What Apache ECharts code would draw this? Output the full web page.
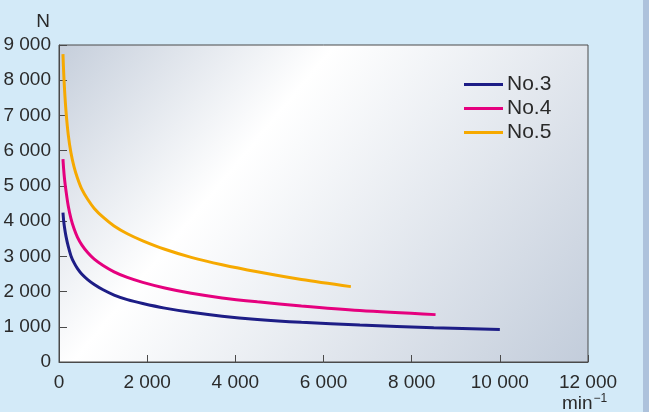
<!DOCTYPE html>
<html>
<head>
<meta charset="utf-8">
<style>
html,body{margin:0;padding:0;background:#d3eaf8;}
#chart{width:649px;height:412px;}
</style>
<script src="https://cdn.jsdelivr.net/npm/echarts@6/dist/echarts.min.js"></script>
</head>
<body>
<div id="chart"></div>
<script>
// Data (speed min^-1, load N)
const seriesNames = ['No.3', 'No.4', 'No.5'];
const no3 = [[90,4240],[105,4020],[125,3820],[160,3560],[210,3280],[270,3020],[340,2820],[420,2650],[520,2490],[650,2340],[800,2200],[1000,2050],[1250,1900],[1550,1770],[1900,1660],[2400,1530],[3000,1410],[3700,1300],[4500,1210],[5500,1130],[6825,1050],[8500,975],[10000,920]];
const no4 = [[90,5760],[105,5480],[125,5200],[160,4850],[210,4430],[270,4080],[340,3790],[420,3540],[520,3320],[650,3110],[800,2920],[1000,2740],[1250,2560],[1550,2400],[1900,2260],[2400,2100],[3000,1950],[3700,1820],[4500,1710],[5500,1590],[6825,1460],[8542,1345]];
const no5 = [[90,8740],[105,8250],[125,7750],[160,7100],[210,6450],[270,5950],[340,5550],[420,5220],[520,4900],[650,4620],[800,4360],[1000,4110],[1250,3860],[1550,3640],[1900,3440],[2400,3200],[3000,2970],[3700,2760],[4500,2560],[5500,2340],[6621,2140]];
const xTickLabels = ['0','2 000','4 000','6 000','8 000','10 000','12 000'];
const yTickLabels = ['0','1 000','2 000','3 000','4 000','5 000','6 000','7 000','8 000','9 000'];
const colors = ['#1d1d86', '#e5007e', '#f6a900'];

const chart = echarts.init(document.getElementById('chart'), null, {renderer:'canvas'});
const txt = '#2a2a2a';
const font = 'Liberation Sans, Arial, sans-serif';
function mkSeries(i, data) {
  return {name: seriesNames[i], type: 'line', data: data, smooth: 0.3,
    symbol: 'none', lineStyle: {width: 3, color: colors[i]}, itemStyle: {color: colors[i]}};
}
chart.setOption({
  backgroundColor: '#d3eaf8',
  animation: false,
  textStyle: {fontFamily: font},
  grid: {
    left: 59, top: 45, right: 61, bottom: 50,
    show: true, borderColor: '#4a4a4a', borderWidth: 1,
    backgroundColor: {
      type: 'linear', x: 0, y: 0, x2: 1, y2: 1.38,
      colorStops: [
        {offset: 0, color: '#c5cedb'},
        {offset: 0.31, color: '#ffffff'},
        {offset: 0.88, color: '#c3cddb'},
        {offset: 1, color: '#c3cddb'}
      ]
    }
  },
  legend: {
    orient: 'vertical', left: 464, top: 74, padding: 0,
    icon: 'rect', itemWidth: 39, itemHeight: 3, itemGap: 3,
    data: seriesNames,
    textStyle: {fontSize: 21, lineHeight: 21, color: txt, fontFamily: font, padding: [0,0,0,-1]}
  },
  xAxis: {
    type: 'value', min: 0, max: 12000, interval: 2000,
    axisLine: {show: true, lineStyle: {color: '#4a4a4a', width: 1}},
    axisTick: {show: true, inside: true, length: 7, lineStyle: {color: '#4a4a4a'}},
    splitLine: {show: false},
    axisLabel: {fontSize: 19, color: txt, margin: 11, fontFamily: font,
      formatter: v => xTickLabels[Math.round(v / 2000)]}
  },
  yAxis: {
    type: 'value', min: 0, max: 9000, interval: 1000,
    axisLine: {show: true, lineStyle: {color: '#4a4a4a', width: 1}},
    axisTick: {show: true, inside: true, length: 8, lineStyle: {color: '#4a4a4a'}},
    splitLine: {show: false},
    axisLabel: {fontSize: 19, color: txt, margin: 8, fontFamily: font,
      formatter: v => yTickLabels[Math.round(v / 1000)]}
  },
  graphic: [
    {type: 'text', x: 50, y: 22, style: {text: 'N', fontSize: 19, fill: txt, font: '19px ' + font, textAlign: 'right', textVerticalAlign: 'middle'}},
    {type: 'text', x: 562, y: 394, style: {
      text: '{m|min}{s|−1}', textAlign: 'left', textVerticalAlign: 'top',
      rich: {m: {fontSize: 19, fill: txt, fontFamily: font, lineHeight: 19},
             s: {fontSize: 12, fill: txt, fontFamily: font, lineHeight: 19, padding: [0,0,10,1]}}
    }},
    {type: 'rect', shape: {x: 643, y: 0, width: 6, height: 412}, style: {fill: '#adc2dc'}}
  ],
  series: [mkSeries(0, no3), mkSeries(1, no4), mkSeries(2, no5)]
});
</script>
</body>
</html>
